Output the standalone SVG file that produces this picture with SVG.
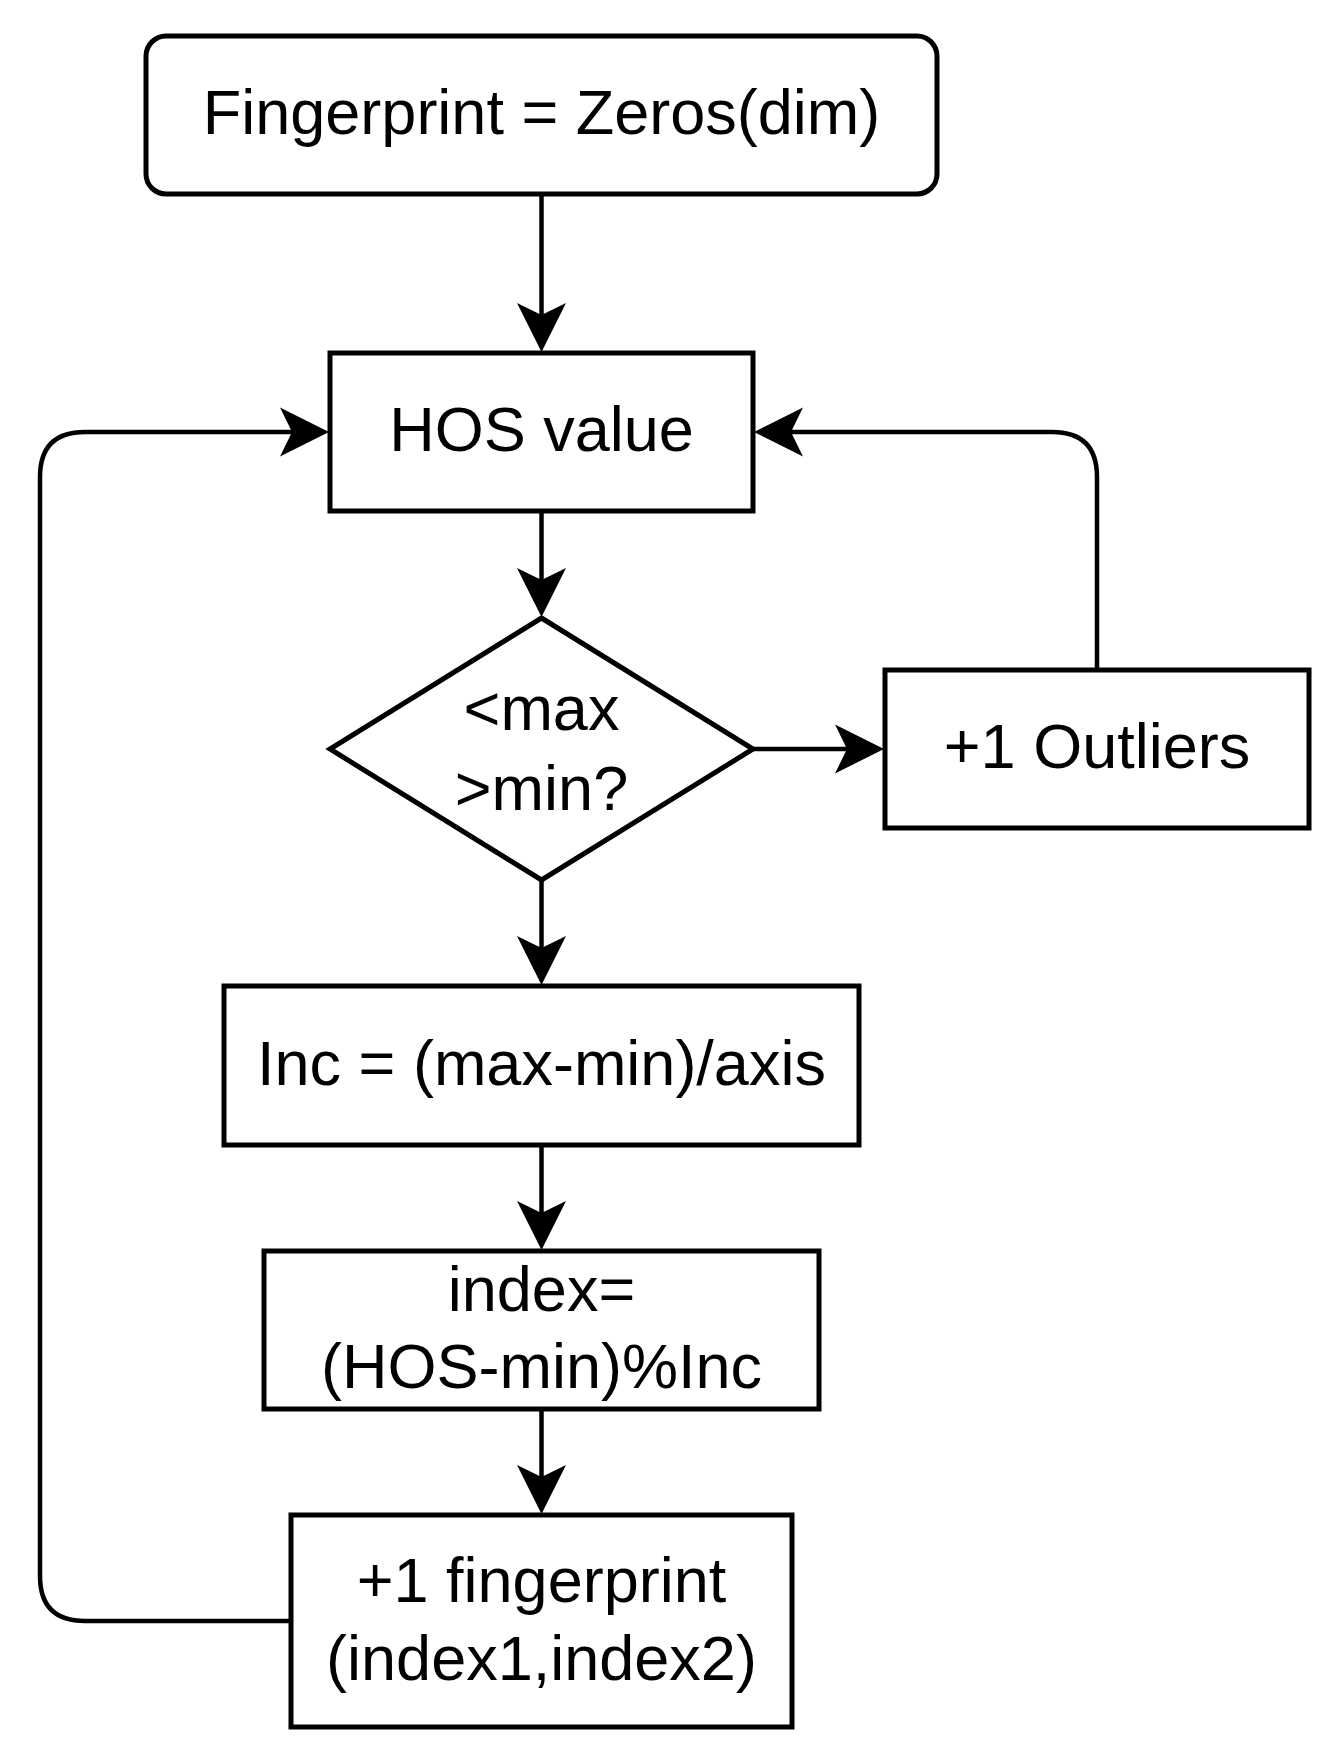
<svg xmlns="http://www.w3.org/2000/svg" width="1332" height="1759" viewBox="0 0 1332 1759">
<style>
.box{fill:#fff;stroke:#000;stroke-width:5}
.edge{fill:none;stroke:#000;stroke-width:4.5}
.t{font-family:"Liberation Sans",Arial,sans-serif;font-size:63px;fill:#000;text-anchor:middle}
</style>
<defs>
<marker id="arr" markerUnits="userSpaceOnUse" markerWidth="50" markerHeight="50" viewBox="0 0 50 50" refX="12" refY="25" orient="auto" overflow="visible">
<path d="M0,0.5 L49,25 L0,49.5 L12,25 Z" fill="#000"/>
</marker>
</defs>
<rect width="1332" height="1759" fill="#fff"/>
<g id="connectors">
<path class="edge" d="M541.5,196 L541.5,315" marker-end="url(#arr)"/>
<path class="edge" d="M541.5,513 L541.5,580" marker-end="url(#arr)"/>
<path class="edge" d="M541.5,880 L541.5,948" marker-end="url(#arr)"/>
<path class="edge" d="M541.5,1147 L541.5,1213" marker-end="url(#arr)"/>
<path class="edge" d="M541.5,1411 L541.5,1477" marker-end="url(#arr)"/>
<path class="edge" d="M752,749 L847,749" marker-end="url(#arr)"/>
<path class="edge" d="M1097,670 L1097,477 Q1097,432 1052,432 L791,432" marker-end="url(#arr)"/>
<path class="edge" d="M291,1621 L85,1621 Q40,1621 40,1576 L40,477 Q40,432 85,432 L292,432" marker-end="url(#arr)"/>
</g>
<g id="start">
<rect class="box" x="146" y="36" width="791" height="158" rx="20" ry="20"/>
<text class="t" x="541.5" y="134">Fingerprint = Zeros(dim)</text>
</g>
<g id="hos">
<rect class="box" x="330" y="353" width="423" height="158"/>
<text class="t" x="541.5" y="451">HOS value</text>
</g>
<g id="decision">
<polygon class="box" points="541.5,618 753,749 541.5,880 330,749"/>
<text class="t" x="541.5" y="730">&lt;max</text>
<text class="t" x="541.5" y="810">&gt;min?</text>
</g>
<g id="outliers">
<rect class="box" x="885" y="670" width="424" height="158"/>
<text class="t" x="1097" y="768">+1 Outliers</text>
</g>
<g id="inc">
<rect class="box" x="224" y="986" width="635" height="159"/>
<text class="t" x="541.5" y="1085">Inc = (max-min)/axis</text>
</g>
<g id="index">
<rect class="box" x="264" y="1251" width="555" height="158"/>
<text class="t" x="541.5" y="1311">index=</text>
<text class="t" x="541.5" y="1388">(HOS-min)%Inc</text>
</g>
<g id="fingerprint">
<rect class="box" x="291" y="1515" width="501" height="212"/>
<text class="t" x="541.5" y="1602">+1 fingerprint</text>
<text class="t" x="541.5" y="1680">(index1,index2)</text>
</g>
</svg>
